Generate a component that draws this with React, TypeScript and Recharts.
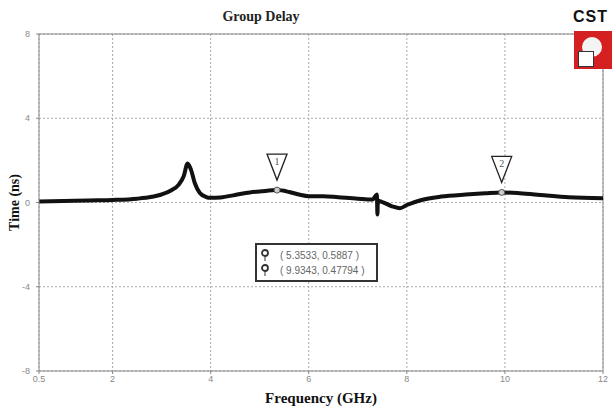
import {
  LineChart, Line, XAxis, YAxis, CartesianGrid, ReferenceDot, ReferenceLine, Label,
} from "recharts"

// Group delay trace
const freqGHz = [
  0.5, 1.0, 1.5, 2.0, 2.5, 2.8, 3.0, 3.2, 3.35, 3.45, 3.53, 3.6, 3.68, 3.78, 3.9, 4.0,
  4.2, 4.5, 4.8, 5.0, 5.3533, 5.6, 5.8, 6.0, 6.3, 6.6, 7.0, 7.3, 7.39, 7.40, 7.41, 7.5,
  7.7, 7.86, 8.0, 8.3, 8.7, 9.2, 9.6, 9.9343, 10.3, 10.8, 11.3, 12.0,
]
const delayNs = [
  0.05, 0.07, 0.1, 0.12, 0.18, 0.27, 0.38, 0.58, 0.85, 1.25, 1.85, 1.55, 0.9, 0.45, 0.27, 0.22,
  0.24, 0.36, 0.48, 0.52, 0.5887, 0.5, 0.38, 0.3, 0.3, 0.25, 0.18, 0.14, 0.38, -0.57, 0.08, 0.02,
  -0.18, -0.27, -0.12, 0.12, 0.28, 0.38, 0.44, 0.47794, 0.44, 0.34, 0.25, 0.2,
]

const xTicks = [0.5, 2, 4, 6, 8, 10, 12]
const yTicks = [-8, -4, 0, 4, 8]

const markers = [
  { id: "1", f: 5.3533, t: 0.5887 },
  { id: "2", f: 9.9343, t: 0.47794 },
]

const rows = freqGHz.map((f, i) => ({ f, t: delayNs[i] }))

const serif = "'Liberation Serif', 'DejaVu Serif', serif"

function MarkerShape(props: any) {
  const { cx, cy, id } = props
  const tip = cy - 10
  return (
    <g>
      <polygon
        points={`${cx - 10},${tip - 26} ${cx + 10},${tip - 26} ${cx},${tip}`}
        fill="#fff"
        stroke="#222"
        strokeWidth={1.3}
      />
      <text x={cx} y={tip - 15} textAnchor="middle" fontSize={10} fontFamily={serif} fill="#555">
        {id}
      </text>
      <circle cx={cx} cy={cy} r={3} fill="#ccc" stroke="#555" strokeWidth={1} />
    </g>
  )
}

export default function App() {
  return (
    <div style={{ position: "absolute", left: 0, top: 0, width: 612, height: 409, background: "#fff" }}>
      <LineChart width={612} height={409} data={rows} margin={{ top: 34, right: 9, bottom: 0, left: 0 }}>
        <CartesianGrid stroke="#aaa" strokeDasharray="2 2" />
        <XAxis
          dataKey="f"
          type="number"
          domain={[0.5, 12]}
          ticks={xTicks}
          height={38}
          stroke="#888"
          tickSize={3}
          tick={{ fontSize: 9, fill: "#888", fontFamily: "Arial" }}
        >
          <Label
            value="Frequency (GHz)"
            position="insideBottom"
            offset={6}
            style={{ fontFamily: serif, fontWeight: "bold", fontSize: 15, fill: "#111" }}
          />
        </XAxis>
        <YAxis
          type="number"
          domain={[-8, 8]}
          ticks={yTicks}
          width={39}
          stroke="#888"
          tickSize={3}
          tickMargin={6}
          tickFormatter={(v) => String(v)}
          tick={{ fontSize: 9, fill: "#888", fontFamily: "Arial" }}
        >
          <Label
            value="Time (ns)"
            angle={-90}
            position="insideLeft"
            offset={14}
            style={{ fontFamily: serif, fontWeight: "bold", fontSize: 14, fill: "#111", textAnchor: "middle" }}
          />
        </YAxis>
        <ReferenceLine y={8} stroke="#888" />
        <ReferenceLine x={12} stroke="#888" />
        <Line
          dataKey="t"
          type="monotone"
          stroke="#111"
          strokeWidth={4}
          dot={false}
          isAnimationActive={false}
        />
        {markers.map((m) => (
          <ReferenceDot
            key={m.id}
            x={m.f}
            y={m.t}
            r={3}
            shape={(p: any) => <MarkerShape {...p} id={m.id} />}
          />
        ))}
      </LineChart>

      <div
        style={{
          position: "absolute", left: 0, width: 522, top: 9, textAlign: "center",
          fontFamily: serif, fontWeight: "bold", fontSize: 14, color: "#222",
        }}
      >
        Group Delay
      </div>

      <div
        style={{
          position: "absolute", left: 255, top: 243, width: 123, height: 39,
          border: "2px solid #333", background: "#fff", fontFamily: "Arial",
          fontSize: 10, color: "#666", padding: "3px 0 0 4px", boxSizing: "border-box",
        }}
      >
        {markers.map((m) => (
          <div key={m.id} style={{ display: "flex", alignItems: "center", height: 15 }}>
            <svg width={10} height={13} style={{ marginRight: 9 }}>
              <circle cx={4} cy={4} r={3} fill="#fff" stroke="#333" strokeWidth={1.8} />
              <line x1={4} y1={7} x2={4} y2={12} stroke="#333" strokeWidth={1} />
            </svg>
            <span>( {m.f.toFixed(4)}, {m.t} )</span>
          </div>
        ))}
      </div>

      <div
        style={{
          position: "absolute", left: 573, top: 8, fontFamily: "Arial", fontWeight: "bold",
          fontSize: 16, color: "#111", letterSpacing: 1,
        }}
      >
        CST
      </div>
      <div
        style={{
          position: "absolute", left: 574, top: 31, width: 38, height: 38,
          background: "#d42020", overflow: "hidden",
        }}
      >
        <div style={{ position: "absolute", left: 8, top: 6, width: 20, height: 20, borderRadius: 10, background: "#f4f4f4" }} />
        <div style={{ position: "absolute", left: 4, top: 20, width: 14, height: 14, background: "#fff", border: "1px solid #333" }} />
      </div>
    </div>
  )
}
